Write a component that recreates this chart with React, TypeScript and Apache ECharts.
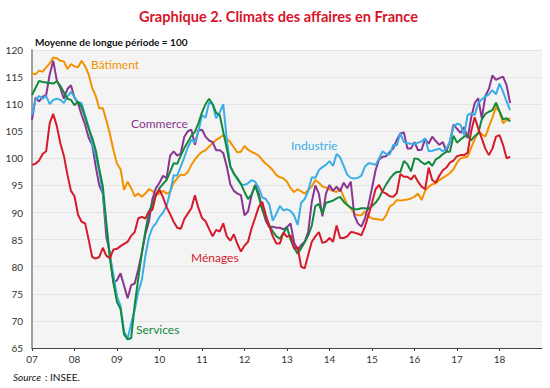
import React, { useEffect, useRef } from "react";
import * as echarts from "echarts";

// Monthly values, January 2007 (index 0) to April 2018 (index 135)
const batiment = [
  115.7, 115.5, 116.2, 116.0, 116.8, 117.5, 118.6, 118.5, 118.0, 117.9, 116.5, 117.4,
  117.0, 116.8, 118.0, 117.0, 115.5, 113.0, 111.5, 109.2, 109.3, 107.0, 104.5, 101.5,
  99.0, 98.0, 94.2, 95.7, 94.5, 93.0, 93.5, 92.9, 93.5, 94.3, 94.0, 93.2,
  93.5, 94.0, 93.5, 93.8, 95.5, 96.3, 97.0, 96.9, 97.5, 98.8, 99.8, 100.6,
  101.2, 101.5, 102.2, 102.8, 103.4, 103.8, 104.3, 103.6, 103.0, 102.0, 101.1, 101.2,
  102.3, 101.6, 101.2, 100.9, 100.5, 99.7, 99.0, 98.5, 97.8, 96.9, 96.5, 96.3,
  95.7, 94.5, 93.8, 94.3, 93.9, 93.5, 94.2, 94.8, 96.0, 95.5, 94.8, 94.6,
  94.3, 94.0, 93.8, 94.5, 92.9, 91.5, 90.8, 89.8, 89.5, 89.5, 90.2, 89.3,
  88.9, 88.8, 88.7, 88.6, 89.5, 91.1, 91.5, 92.3, 92.2, 92.3, 92.4, 92.6,
  92.9, 93.5, 92.3, 94.0, 94.8, 95.2, 95.4, 96.0, 96.4, 96.8, 97.3, 98.0,
  99.2, 100.0, 100.2, 100.3, 102.0, 103.5, 104.9, 104.5, 104.0, 105.8, 107.5, 109.5,
  108.6, 106.5, 107.1, 107.4,
];

const commerce = [
  107.1, 111.2, 110.5, 111.4, 111.7, 115.5, 118.0, 114.4, 113.0, 111.0, 112.8, 113.5,
  111.2, 110.2, 108.0, 106.2, 103.8, 102.5, 98.5, 95.0, 93.5, 85.5, 82.5, 77.0,
  77.5, 78.8, 76.5, 74.2, 76.6, 76.9, 79.5, 82.5, 86.0, 88.3, 92.5, 94.5,
  95.5, 96.8, 96.3, 100.5, 101.3, 100.5, 100.9, 104.0, 105.0, 105.3, 102.5, 105.2,
  105.3, 104.0, 103.3, 103.0, 101.5, 101.5, 101.0, 98.5, 95.2, 94.0, 93.5, 93.2,
  89.5, 90.2, 93.2, 95.1, 93.5, 90.8, 88.5, 87.3, 87.4, 87.2, 87.2, 86.9,
  87.3, 88.0, 84.5, 83.1, 84.0, 84.6, 86.5, 92.0, 95.0, 93.5, 89.3, 93.5,
  95.1, 94.0, 94.8, 93.9, 95.5, 94.5, 95.7, 89.5, 88.0, 87.4, 88.9, 91.4,
  94.5, 97.8, 99.8, 100.3, 100.4, 101.2, 101.8, 103.4, 104.6, 104.8, 101.8, 101.8,
  103.0, 101.5, 101.6, 103.6, 102.7, 104.0, 103.2, 102.5, 103.0, 101.3, 103.1, 106.2,
  105.5, 104.7, 105.8, 103.7, 107.5, 110.2, 111.1, 107.4, 111.5, 112.8, 115.3, 114.5,
  114.8, 115.1, 113.5, 110.2,
];

const industrie = [
  108.0, 110.8, 111.5, 111.0, 111.5, 110.0, 110.8, 111.0, 110.8, 110.2, 111.4, 112.3,
  111.3, 110.3, 110.2, 108.0, 105.8, 102.8, 100.5, 97.5, 93.5, 87.5, 82.0, 78.5,
  74.5, 72.8, 68.0, 66.7, 69.5, 72.0, 75.4, 77.5, 82.0, 85.4, 87.2, 88.0,
  89.2, 90.0, 91.2, 93.8, 96.9, 96.8, 98.5, 100.2, 102.0, 103.4, 103.0, 105.0,
  108.0, 107.5, 110.3, 110.0, 107.4, 108.5, 110.0, 103.5, 98.5, 97.2, 96.1, 95.2,
  95.1, 95.4, 96.0, 95.7, 94.6, 92.8, 92.5, 91.5, 88.5, 89.8, 91.2, 90.4,
  90.6, 90.3, 89.5, 87.7, 91.8, 92.5, 94.0, 96.5, 96.4, 97.8, 98.4, 98.8,
  99.5, 98.6, 100.8, 100.2, 98.6, 97.0, 96.4, 96.3, 96.4, 96.8, 98.5, 99.1,
  99.0, 98.8, 100.0, 101.3, 100.8, 100.7, 102.5, 102.4, 104.6, 103.0, 102.8, 102.7,
  102.6, 102.9, 103.1, 103.7, 101.3, 101.4, 101.6, 101.8, 101.3, 101.8, 103.1, 105.8,
  106.4, 106.2, 104.3, 108.0, 108.3, 108.0, 110.2, 110.9, 111.4, 111.8, 112.6, 111.8,
  113.8, 112.3, 110.5, 108.9,
];

const services = [
  111.7, 113.0, 114.3, 114.1, 114.0, 113.9, 113.8, 114.2, 113.4, 112.2, 111.0, 110.8,
  109.8, 110.5, 109.5, 107.5, 105.5, 103.8, 101.5, 98.0, 94.8, 88.0, 81.5, 77.0,
  73.5, 72.2, 67.5, 66.6, 66.8, 73.0, 77.8, 82.5, 86.5, 90.0, 91.8, 93.2,
  94.5, 95.3, 96.0, 97.5, 99.1, 99.0, 100.5, 101.9, 103.0, 104.2, 104.9, 106.5,
  108.5, 110.0, 111.0, 110.0, 108.4, 108.0, 104.9, 101.8, 98.5, 97.2, 96.3, 95.3,
  93.8, 92.5, 93.3, 95.0, 93.0, 90.5, 89.2, 87.7, 86.5, 85.6, 85.2, 86.2,
  87.3, 85.0, 83.5, 82.4, 83.4, 84.5, 85.8, 87.6, 91.2, 91.6, 89.8, 91.8,
  92.0, 92.2, 92.6, 92.9, 92.0, 91.4, 90.9, 90.6, 90.6, 90.8, 90.8, 90.6,
  91.2, 91.8, 92.7, 94.0, 95.2, 96.2, 97.0, 97.5, 97.5, 99.5, 98.9, 97.6,
  100.0, 99.9, 99.3, 98.9, 99.4, 98.6, 99.8, 100.2, 100.8, 101.2, 101.2, 104.2,
  102.9, 103.5, 104.0, 104.3, 103.3, 104.1, 104.6, 107.2, 108.2, 108.6, 108.9, 110.3,
  108.7, 107.2, 107.4, 106.8,
];

const menages = [
  98.8, 99.0, 99.6, 100.8, 101.3, 106.5, 108.2, 106.0, 102.8, 100.5, 97.0, 94.0,
  93.0, 89.6, 88.3, 88.0, 85.0, 81.8, 81.5, 81.8, 83.5, 82.0, 81.6, 83.2,
  83.3, 83.8, 84.2, 84.6, 85.7, 86.4, 88.9, 89.2, 88.9, 90.2, 90.5, 93.3,
  94.2, 92.8, 91.0, 89.7, 88.3, 87.2, 87.0, 88.8, 89.8, 90.8, 93.2, 90.8,
  89.0, 88.4, 87.0, 85.6, 86.8, 86.5, 88.0, 85.6, 84.8, 86.0, 84.2, 82.8,
  83.9, 84.6, 87.1, 89.0, 91.0, 92.0, 89.6, 87.5, 85.6, 84.3, 84.3, 86.3,
  85.5, 85.8, 83.4, 83.6, 80.0, 79.7, 82.2, 84.6, 85.6, 86.4, 84.4, 84.6,
  85.3, 84.6, 87.6, 85.3, 85.3, 85.6, 86.4, 86.3, 86.1, 85.8, 87.4, 89.5,
  91.8, 94.3, 95.1, 93.8, 93.5, 93.0, 92.9, 93.6, 97.1, 96.6, 96.6, 96.1,
  96.9, 95.7, 94.8, 94.3, 98.3, 96.0, 95.5, 96.8, 97.8, 98.3, 99.2, 99.6,
  100.4, 100.6, 100.6, 101.0, 105.0, 107.6, 105.5, 103.7, 101.8, 100.6, 101.8, 104.0,
  104.3, 102.5, 100.0, 100.3,
];

const yearLabels = ["07", "08", "09", "10", "11", "12", "13", "14", "15", "16", "17", "18"];

const FONT = "Lato, 'Noto Sans', sans-serif";

const toPoints = (arr: number[]) => arr.map((v, i) => [i, v]);

export default function App() {
  const ref = useRef<HTMLDivElement>(null);

  useEffect(() => {
    if (!ref.current) return;
    const chart = echarts.init(ref.current, null, { renderer: "svg" });

    const line = (name: string, data: number[], color: string) => ({
      name,
      type: "line",
      data: toPoints(data),
      showSymbol: false,
      symbol: "none",
      lineStyle: { color, width: 2 },
      itemStyle: { color },
      z: 3,
    });

    const text = (
      content: string,
      x: number,
      y: number,
      color: string,
      font: string
    ) => ({
      type: "text",
      x,
      y,
      style: {
        text: content,
        fill: color,
        font,
        verticalAlign: "middle",
        align: "left",
      },
      z: 10,
    });

    chart.setOption({
      animation: false,
      backgroundColor: "#ffffff",
      title: {
        text: "Graphique 2. Climats des affaires en France",
        left: 134,
        top: 4,
        textStyle: {
          color: "#d7142a",
          fontFamily: FONT,
          fontSize: 14.6,
          fontWeight: "bold",
        },
      },
      grid: {
        left: 32,
        right: 8,
        top: 50,
        bottom: 40,
        show: true,
        backgroundColor: "#f4f4f4",
        borderWidth: 0,
      },
      xAxis: {
        type: "value",
        min: 0,
        max: 144,
        interval: 12,
        axisLine: { show: true, lineStyle: { color: "#444", width: 1 } },
        axisTick: { show: true, length: 3, lineStyle: { color: "#444" } },
        splitLine: { show: false },
        axisLabel: {
          showMaxLabel: false,
          color: "#333",
          fontFamily: FONT,
          fontSize: 10,
          margin: 6,
          formatter: (v: number) => yearLabels[Math.round(v / 12)] ?? "",
        },
      },
      yAxis: {
        type: "value",
        min: 65,
        max: 120,
        interval: 5,
        axisLine: { show: true, lineStyle: { color: "#a0a0a0", width: 2 } },
        axisTick: { show: false },
        splitLine: { show: true, lineStyle: { color: "#e4e4e4", width: 1 } },
        axisLabel: {
          color: "#333",
          fontFamily: FONT,
          fontSize: 10,
          margin: 9,
        },
      },
      series: [
        line("Bâtiment", batiment, "#f39200"),
        line("Commerce", commerce, "#8a3592"),
        line("Industrie", industrie, "#3aaee6"),
        line("Services", services, "#128a3c"),
        line("Ménages", menages, "#d51a2c"),
      ],
      graphic: [
        text("Moyenne de longue période = 100", 35, 42, "#111", `bold 10px ${FONT}`),
        text("Bâtiment", 91, 64.5, "#f39200", `12px ${FONT}`),
        text("Commerce", 131, 123, "#8a3592", `12px ${FONT}`),
        text("Industrie", 291, 145, "#3aaee6", `12px ${FONT}`),
        text("Ménages", 191, 257, "#d51a2c", `12px ${FONT}`),
        text("Services", 136, 329, "#128a3c", `12px ${FONT}`),
        text("Source", 13, 377, "#111", `italic 10px ${FONT}`),
        text(": INSEE.", 45, 377, "#111", `10px ${FONT}`),
      ],
    });

    return () => chart.dispose();
  }, []);

  return (
    <div
      ref={ref}
      style={{ position: "fixed", left: 0, top: 0, width: 550, height: 388 }}
    />
  );
}
